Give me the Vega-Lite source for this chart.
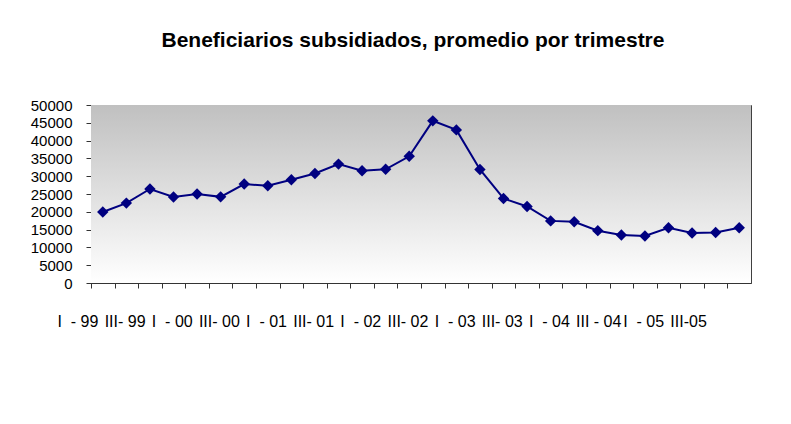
{
  "$schema": "https://vega.github.io/schema/vega-lite/v6.json",
  "width": 660,
  "height": 178,
  "padding": {"left": 30, "top": 29, "right": 5, "bottom": 5},
  "background": "white",
  "title": {
    "text": "Beneficiarios subsidiados, promedio por trimestre",
    "font": "Liberation Sans",
    "fontSize": 21,
    "fontWeight": "bold",
    "color": "black",
    "anchor": "middle",
    "frame": "group",
    "dx": -8,
    "offset": 47.5
  },
  "config": {
    "view": {"stroke": "#404040", "strokeWidth": 1},
    "axis": {"labelFont": "Liberation Sans", "labelColor": "black", "domainColor": "#333333", "tickColor": "#333333", "grid": false, "title": null}
  },
  "datasets": {
    "bg": [{}],
    "main": [
      {"q": "I\u00a0\u00a0-\u00a099", "v": 19950},
      {"q": "II - 99", "v": 22450},
      {"q": "III-\u00a099", "v": 26400},
      {"q": "IV - 99", "v": 24150},
      {"q": "I\u00a0\u00a0-\u00a000", "v": 25000},
      {"q": "II - 00", "v": 24200},
      {"q": "III-\u00a000", "v": 27800},
      {"q": "IV - 00", "v": 27300},
      {"q": "I\u00a0\u00a0-\u00a001", "v": 29000},
      {"q": "II - 01", "v": 30750},
      {"q": "III-\u00a001", "v": 33400},
      {"q": "IV - 01", "v": 31550},
      {"q": "I\u00a0\u00a0-\u00a002", "v": 31950},
      {"q": "II - 02", "v": 35600},
      {"q": "III-\u00a002", "v": 45550},
      {"q": "IV - 02", "v": 43000},
      {"q": "I\u00a0\u00a0-\u00a003", "v": 31900},
      {"q": "II - 03", "v": 23750},
      {"q": "III-\u00a003", "v": 21500},
      {"q": "IV - 03", "v": 17450},
      {"q": "I\u00a0\u00a0-\u00a004", "v": 17200},
      {"q": "II - 04", "v": 14700},
      {"q": "III\u00a0-\u00a004", "v": 13500},
      {"q": "IV - 04", "v": 13200},
      {"q": "I\u00a0\u00a0-\u00a005", "v": 15500},
      {"q": "II - 05", "v": 14050},
      {"q": "\u00a0III-05", "v": 14200},
      {"q": "IV - 05", "v": 15500}
    ]
  },
  "layer": [
    {
      "data": {"name": "bg"},
      "mark": {
        "type": "rect",
        "color": {
          "gradient": "linear",
          "x1": 0, "y1": 0, "x2": 0, "y2": 1,
          "stops": [
            {"offset": 0, "color": "#c0c0c0"},
            {"offset": 1, "color": "#ffffff"}
          ]
        }
      },
      "encoding": {
        "y": {
          "datum": 50000,
          "type": "quantitative",
          "scale": {"domain": [0, 50000], "nice": false},
          "axis": {"values": [0, 5000, 10000, 15000, 20000, 25000, 30000, 35000, 40000, 45000, 50000], "format": "d", "labelFontSize": 15, "tickSize": 5, "labelPadding": 14}
        },
        "y2": {"datum": 0}
      }
    },
    {
      "data": {"name": "main"},
      "mark": {"type": "line", "color": "#000080", "strokeWidth": 2, "point": {"shape": "diamond", "size": 130, "color": "#000080", "filled": true, "opacity": 1}},
      "encoding": {
        "x": {
          "field": "q",
          "type": "nominal",
          "sort": null,
          "scale": {"paddingInner": 0, "paddingOuter": 0},
          "axis": {
            "labelAngle": 0,
            "labelAlign": "left",
            "labelOffset": -34,
            "labelPadding": 25,
            "labelFontSize": 16,
            "tickSize": 5,
            "tickOffset": -11.8,
            "labelExpr": "indexof(datum.value, 'II ') == 0 || indexof(datum.value, 'IV') == 0 ? '' : datum.value"
          }
        },
        "y": {
          "field": "v",
          "type": "quantitative",
          "scale": {"domain": [0, 50000], "nice": false},
          "axis": {"values": [0, 5000, 10000, 15000, 20000, 25000, 30000, 35000, 40000, 45000, 50000], "format": "d", "labelFontSize": 15, "tickSize": 5, "labelPadding": 14}
        }
      }
    }
  ]
}
